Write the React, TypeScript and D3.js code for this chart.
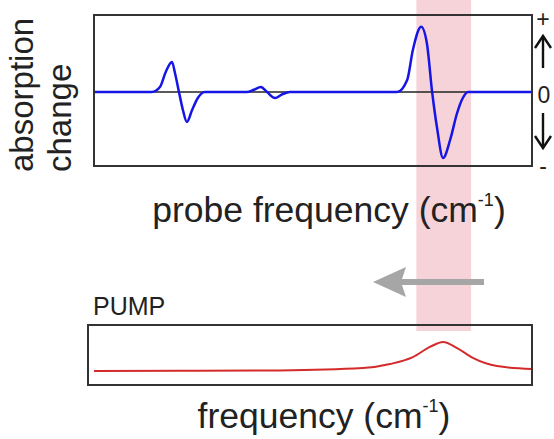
import * as d3 from "d3";

// probe spectrum: change in absorption vs probe frequency (arbitrary units, 0-100)
const probeX = [
  0, 13.2, 15.1, 16.4, 17.8, 18.5, 19.4, 20.3, 21.2, 22.4, 23.7, 25.3,
  34.9, 36.5, 38.1, 39.5, 41.3, 43.0, 44.7,
  69.2, 71.5, 72.8, 74.7, 76.0, 77.2, 78.3, 79.7, 81.3, 82.9, 84.2, 85.4, 100,
];
const probeDelta = [
  0, 0, 0.07, 0.27, 0.4, 0.25, 0, -0.24, -0.4, -0.24, -0.08, 0,
  0, 0.03, 0.067, 0, -0.08, -0.03, 0,
  0, 0.16, 0.56, 0.87, 0.65, 0, -0.47, -0.88, -0.64, -0.28, -0.08, 0, 0,
];

// pump spectrum
const pumpX = [0, 20, 42.5, 61.4, 67.6, 72.8, 76.7, 79.7, 82.9, 86.5, 92, 100];
const pumpAbs = [0, 0.005, 0.02, 0.1, 0.24, 0.48, 0.83, 1.0, 0.79, 0.45, 0.17, 0.07];

const FONT = "'Liberation Sans', Arial, sans-serif";

export default function App() {
  const x = d3.scaleLinear().domain([0, 100]).range([94, 532]);
  const yTop = d3.scaleLinear().domain([-1, 1]).range([167, 17]);
  const yPump = d3.scaleLinear().domain([0, 1]).range([371, 342]);

  const probeLine = d3
    .line<number>()
    .x((_, i) => x(probeX[i]))
    .y(d => yTop(d))
    .curve(d3.curveMonotoneX);

  const pumpLine = d3
    .line<number>()
    .x((_, i) => x(pumpX[i]))
    .y(d => yPump(d))
    .curve(d3.curveMonotoneX);

  // pump band position
  const band = [73.6, 86.1];

  return (
    <svg
      width={554}
      height={439}
      style={{ position: "absolute", left: 0, top: 0, background: "#fff" }}
      fontFamily={FONT}
    >
      <rect
        x={x(band[0])}
        y={0}
        width={x(band[1]) - x(band[0])}
        height={331}
        fill="#f6d3d8"
      />

      {/* top panel */}
      <line x1={94} x2={532} y1={yTop(0)} y2={yTop(0)} stroke="#222" strokeWidth={1.3} />
      <path d={probeLine(probeDelta) ?? ""} fill="none" stroke="#1515e6" strokeWidth={2.5} />
      <rect x={94} y={15} width={438} height={151} fill="none" stroke="#333" strokeWidth={2} />

      <g fontSize={33} fill="#222">
        <text transform="translate(33,172) rotate(-90)">absorption</text>
        <text transform="translate(71,172) rotate(-90)">change</text>
      </g>

      <text x={329} y={222} textAnchor="middle" fontSize={35.5} fill="#222">
        probe frequency (cm
        <tspan fontSize={18} dy={-16}>-1</tspan>
        <tspan dy={16}>)</tspan>
      </text>

      {/* +/0/- scale */}
      <g fill="#222" fontSize={23} textAnchor="middle">
        <text x={543} y={27}>+</text>
        <text x={544} y={103}>0</text>
        <text x={543} y={174}>-</text>
      </g>
      <g stroke="#111" strokeWidth={2.4} fill="none">
        <line x1={543} x2={543} y1={36} y2={68} />
        <polyline points="535,48 543,36 551,48" />
        <line x1={543} x2={543} y1={113} y2={148} />
        <polyline points="535,136 543,148 551,136" />
      </g>

      {/* shift arrow */}
      <line x1={484} x2={400} y1={282} y2={282} stroke="#a6a6a6" strokeWidth={6} />
      <path d="M373,282 L406,267 L401,282 L406,297 Z" fill="#a6a6a6" />

      {/* pump panel */}
      <text x={93} y={315} fontSize={25} fill="#222">PUMP</text>
      <path d={pumpLine(pumpAbs) ?? ""} fill="none" stroke="#d42a2a" strokeWidth={2} />
      <rect x={88} y={325} width={444} height={60} fill="none" stroke="#333" strokeWidth={2} />

      <text x={324} y={428} textAnchor="middle" fontSize={35.5} fill="#222">
        frequency (cm
        <tspan fontSize={18} dy={-16}>-1</tspan>
        <tspan dy={16}>)</tspan>
      </text>
    </svg>
  );
}
